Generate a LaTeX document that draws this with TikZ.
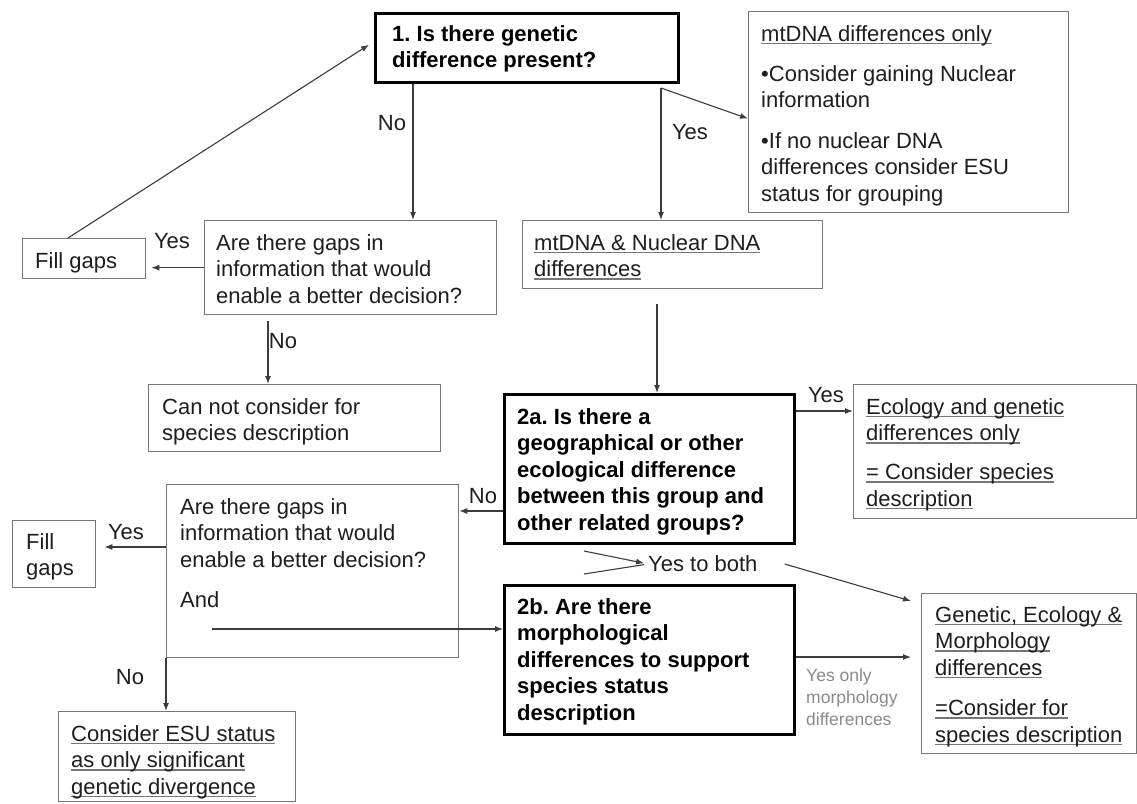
\documentclass[tikz,border=0pt]{standalone}
\usepackage{fontspec}
\setmainfont{Liberation Sans}
\usetikzlibrary{arrows.meta}
\definecolor{ink}{HTML}{1E1E1E}
\definecolor{frame}{HTML}{777777}
\definecolor{wirecol}{HTML}{3C3C3C}
\definecolor{note}{HTML}{8A8A8A}
\frenchspacing
\newsavebox\undlbox
\newcommand\undl[1]{\sbox\undlbox{#1}\rlap{\color{frame}\rule[-2.8pt]{\wd\undlbox}{1.2pt}}\usebox\undlbox}
\begin{document}
\begin{tikzpicture}[x=1pt,y=-1pt,
  tbox/.style={draw=frame, line width=1.3pt, anchor=north west, inner sep=0pt, fill=white},
  qbox/.style={draw=black, line width=3pt, anchor=north west, inner sep=0pt, fill=white},
  txt/.style={anchor=north west, yshift=15.8pt, align=left, inner sep=0pt, text=ink, font=\fontsize{22}{26.5}\selectfont},
  txtb/.style={txt, text=black, font=\fontsize{22}{26.5}\selectfont\bfseries},
  lbl/.style={inner sep=0pt, text=ink, font=\fontsize{22}{26.5}\selectfont},
  notetxt/.style={anchor=north west, yshift=12.6pt, align=left, inner sep=0pt, text=note, font=\fontsize{17.5}{22}\selectfont},
  link/.style={draw=wirecol, line width=1.1pt},
  arr/.style={link, -{Latex[length=8pt,width=6pt]}}]

\fill[white] (0,0) rectangle (1137,803);
\useasboundingbox (0,0) rectangle (1137,803);

% boxes
\node[qbox, minimum width=303, minimum height=69] (b1) at (374,12) {};
\node[tbox, minimum width=320, minimum height=201] (mt) at (748,11) {};
\node[tbox, minimum width=292, minimum height=94] (gap1) at (204,220) {};
\node[tbox, minimum width=123, minimum height=40] (fill1) at (22,238) {};
\node[tbox, minimum width=300, minimum height=68] (nuc) at (522,220) {};
\node[tbox, minimum width=292, minimum height=67] (cannot) at (148,384) {};
\node[qbox, minimum width=290, minimum height=149] (q2a) at (503,393) {};
\node[tbox, minimum width=283, minimum height=134] (eco) at (853,384) {};
\node[tbox, minimum width=292, minimum height=173] (gap2) at (166,484) {};
\node[tbox, minimum width=83, minimum height=67] (fill2) at (12,520) {};
\node[qbox, minimum width=290, minimum height=149] (q2b) at (503,584) {};
\node[tbox, minimum width=237, minimum height=90] (esu) at (58,711) {};
\node[tbox, minimum width=215, minimum height=160] (gen) at (921,593) {};

% box texts (positions are first-line baselines)
\node[txtb] (b1t) at (392,41) {1. Is there genetic\\difference present?};
\node[txt] (mtt) at (761,41) {\undl{mtDNA differences only}\\[13.5pt]•Consider gaining Nuclear\\information\\[14pt]•If no nuclear DNA\\differences consider ESU\\status for grouping};
\node[txt] (gap1t) at (216,250) {Are there gaps in\\information that would\\enable a better decision?};
\node[txt] (fill1t) at (35,268) {Fill gaps};
\node[txt] (nuct) at (534,250) {\undl{mtDNA \& Nuclear DNA}\\\undl{differences}};
\node[txt] (cannott) at (162,414) {Can not consider for\\species description};
\node[txtb] (q2at) at (517,424) {2a. Is there a\\geographical or other\\ecological difference\\between this group and\\other related groups?};
\node[txt] (ecot) at (866,414) {\undl{Ecology and genetic}\\\undl{differences only}\\[12.5pt]\undl{= Consider species}\\\undl{description}};
\node[txt] (gap2t) at (180,514) {Are there gaps in\\information that would\\enable a better decision?\\[14pt]And};
\node[txt] (fill2t) at (26,549) {Fill\\gaps};
\node[txtb] (q2bt) at (517,614) {2b. Are there\\morphological\\differences to support\\species status\\description};
\node[txt] (esut) at (71,741) {\undl{Consider ESU status}\\\undl{as only significant}\\\undl{genetic divergence}};
\node[txt] (gent) at (935,622) {\undl{Genetic, Ecology \&}\\\undl{Morphology}\\\undl{differences}\\[14pt]\undl{=Consider for}\\\undl{species description}};
\node[notetxt] (morph) at (806,681) {Yes only\\morphology\\differences};

% branch labels
\node[lbl] (l1) at (392,123) {No};
\node[lbl] (l2) at (690,132) {Yes};
\node[lbl] (l3) at (172,241) {Yes};
\node[lbl] (l4) at (283,341) {No};
\node[lbl] (l5) at (483,496) {No};
\node[lbl] (l6) at (826,395) {Yes};
\node[lbl, anchor=west] (ytb) at (648,564) {Yes to both};
\node[lbl] (l7) at (126,532) {Yes};
\node[lbl] (l8) at (130,677) {No};

% connectors
\coordinate (p1) at ([xshift=39pt]b1.south west);
\draw[arr] (p1) -- (p1 |- gap1.north);

\coordinate (p2) at ([xshift=-19pt, yshift=-4pt]b1.south east);
\draw[arr] (p2) -- (p2 |- nuc.north);
\draw[arr] (p2) -- ([yshift=-6.5pt]mt.west);

\draw[arr, shorten >=5pt] (gap1.west) -- (gap1.west -| fill1.east);

\coordinate (p3) at ([xshift=46pt]fill1.north west);
\draw[arr, shorten >=6pt] (p3) -- ([yshift=6.5pt]b1.west);

\coordinate (p4) at ([xshift=64pt, yshift=-6pt]gap1.south west);
\draw[arr] (p4) -- (p4 |- cannot.north);

\coordinate (p5) at ([xshift=135pt, yshift=-15pt]nuc.south west);
\draw[arr] (p5) -- (p5 |- q2a.north);

\coordinate (p6) at ([yshift=-18pt]q2a.north east);
\draw[arr] (p6) -- (p6 -| eco.west);

\coordinate (p7) at ([yshift=-118pt]q2a.north west);
\draw[arr] (p7) -- (p7 -| gap2.east);

\coordinate (p8) at ([yshift=-63pt]gap2.north west);
\draw[arr, shorten >=8pt] (p8) -- (p8 -| fill2.east);

\draw[arr] (gap2.south west) -- (gap2.south west |- esu.north);

\coordinate (p9) at ([xshift=46pt, yshift=-145pt]gap2.north west);
\draw[arr] (p9) -- (p9 -| q2b.west);

\coordinate (p10) at ([xshift=81pt, yshift=-6pt]q2a.south west);
\coordinate (p11) at ([xshift=81pt, yshift=10pt]q2b.north west);
\draw[arr, shorten >=4pt] (p10) -- (ytb.west);
\draw[link, shorten >=4pt] (p11) -- (ytb.west);
\draw[arr] ([xshift=27pt]ytb.east) -- ([xshift=-10pt, yshift=-8pt]gen.north west);

\coordinate (p12) at ([yshift=-73pt]q2b.north east);
\draw[arr, shorten >=10pt] (p12) -- (p12 -| gen.west);
\end{tikzpicture}
\end{document}
